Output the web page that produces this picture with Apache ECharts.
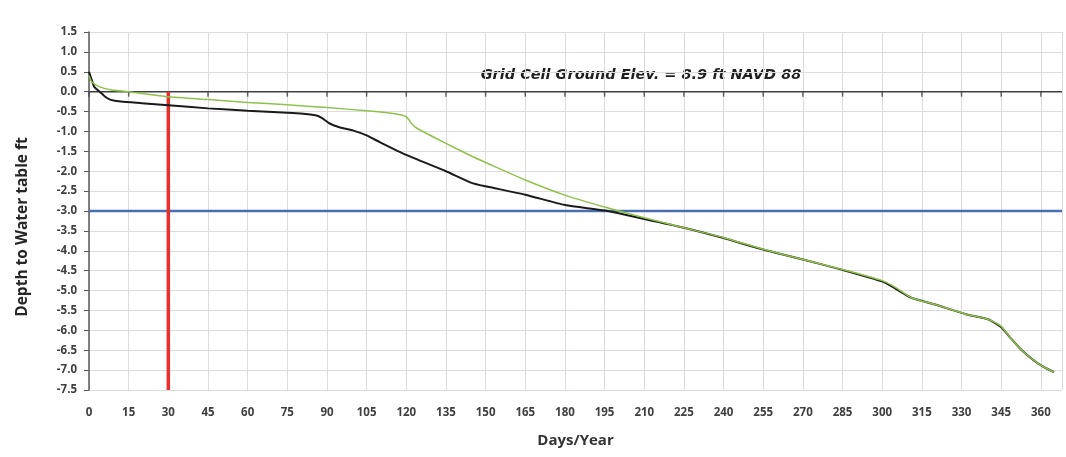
<!DOCTYPE html>
<html>
<head>
<meta charset="utf-8">
<script src="https://cdn.jsdelivr.net/npm/echarts@6/dist/echarts.min.js"></script>
<style>
html,body{margin:0;padding:0;background:#fff;}
#chart{width:1066px;height:457px;}
</style>
</head>
<body>
<div id="chart"></div>
<script>
// Days of year and depth to water table (ft)
const blackDays = [0,1,2,4,6,8,12,20,30,45,60,75,80,86,88,91,95,100,105,110,120,135,145,150,165,180,195,210,225,240,255,270,285,300,305,311,320,332,340,345,348,352,357,361,365];
const blackDepth = [0.5,0.3,0.12,0.0,-0.12,-0.2,-0.25,-0.29,-0.34,-0.42,-0.48,-0.53,-0.55,-0.6,-0.66,-0.8,-0.9,-0.98,-1.1,-1.27,-1.59,-2.0,-2.3,-2.38,-2.59,-2.85,-2.99,-3.2,-3.42,-3.68,-3.97,-4.22,-4.48,-4.77,-4.95,-5.18,-5.35,-5.6,-5.72,-5.92,-6.15,-6.45,-6.74,-6.92,-7.05];
const greenDays = [0,1,4,8,15,30,45,60,75,90,105,115,120,122,124,135,145,150,165,180,195,210,225,240,255,270,285,300,305,311,320,332,340,345,348,352,357,361,365];
const greenDepth = [0.4,0.25,0.12,0.05,0.0,-0.13,-0.2,-0.27,-0.33,-0.4,-0.48,-0.55,-0.63,-0.8,-0.92,-1.3,-1.63,-1.78,-2.22,-2.6,-2.9,-3.17,-3.42,-3.67,-3.96,-4.22,-4.47,-4.75,-4.92,-5.18,-5.35,-5.6,-5.72,-5.9,-6.15,-6.45,-6.74,-6.92,-7.05];
const markerDay = 30;          // red vertical line
const thresholdDepth = -3.0;   // blue horizontal line
const zeroDepth = 0.0;         // ground-level axis line
const yMin = -7.5, yMax = 1.5, yStep = 0.5;
const xMin = 0, xMax = 368, xStep = 15;
const tickDays = [0,15,30,45,60,75,90,105,120,135,150,165,180,195,210,225,240,255,270,285,300,315,330,345,360];
const annotation = 'Grid Cell Ground Elev. = 8.9 ft NAVD 88';
const xTitle = 'Days/Year';
const yTitle = 'Depth to Water table ft';

const toPairs = (xs, ys) => xs.map((x, i) => [x, ys[i]]);

const chart = echarts.init(document.getElementById('chart'));
const lblFont = {fontFamily: 'Open Sans', fontWeight: 'bold', fontSize: 11.5, color: '#404040'};

chart.setOption({
  animation: false,
  backgroundColor: '#ffffff',
  grid: {left: 89, right: 4, top: 32, bottom: 67, containLabel: false},
  xAxis: {
    type: 'value', min: xMin, max: xMax, interval: xStep, position: 'bottom',
    axisLine: {show: false}, axisTick: {show: false},
    axisLabel: Object.assign({margin: 17, showMaxLabel: false}, lblFont),
    splitLine: {show: true, lineStyle: {color: '#dcdcdc', width: 1}},
    name: xTitle, nameLocation: 'middle', nameGap: 43,
    nameTextStyle: {fontFamily: 'Open Sans', fontWeight: 'bold', fontSize: 15, color: '#333333'}
  },
  yAxis: {
    type: 'value', min: yMin, max: yMax, interval: yStep,
    axisLine: {show: true, onZero: false, lineStyle: {color: '#595959', width: 1.5}},
    axisTick: {show: true, length: 5, lineStyle: {color: '#595959'}},
    axisLabel: Object.assign({margin: 12, formatter: v => v.toFixed(1)}, lblFont),
    splitLine: {show: true, lineStyle: {color: '#dcdcdc', width: 1}}
  },
  graphic: [{
    type: 'text', x: 23, y: 227, rotation: Math.PI / 2,
    style: {text: yTitle, fontFamily: 'Open Sans', fontWeight: 'bold', fontSize: 15.5, fill: '#262626', align: 'center', verticalAlign: 'middle'}
  }, {
    type: 'text', x: 641, y: 75,
    style: {text: annotation, fontFamily: 'DejaVu Sans', fontStyle: 'oblique', fontWeight: 'bold', fontSize: 14.5, fill: '#1f1f1f', stroke: 'none', lineWidth: 0, align: 'center', verticalAlign: 'middle'}
  }],
  series: [{
    type: 'line', name: 'zero axis', symbol: 'none', silent: true,
    data: [[xMin, zeroDepth], [xMax, zeroDepth]],
    lineStyle: {color: '#404040', width: 1.5}, z: 2
  }, {
    type: 'scatter', name: 'zero ticks', silent: true,
    data: tickDays.map(d => [d, zeroDepth]),
    symbol: 'rect', symbolSize: [1.5, 5], symbolOffset: [0, 2.5],
    itemStyle: {color: '#404040'}, z: 2
  }, {
    type: 'line', name: 'threshold', symbol: 'none',
    data: [[xMin, thresholdDepth], [xMax, thresholdDepth]],
    lineStyle: {color: '#4a6fb0', width: 2.5}, z: 3
  }, {
    type: 'line', name: 'marker', symbol: 'none',
    data: [[markerDay, zeroDepth], [markerDay, yMin]],
    lineStyle: {color: '#e5302c', width: 3.5}, z: 4
  }, {
    type: 'line', name: 'black', symbol: 'none', smooth: 0.2,
    data: toPairs(blackDays, blackDepth),
    lineStyle: {color: '#1a1a1a', width: 2}, z: 5
  }, {
    type: 'line', name: 'green', symbol: 'none', smooth: 0.2,
    data: toPairs(greenDays, greenDepth),
    lineStyle: {color: '#8fc24a', width: 1.5}, z: 6
  }]
});
</script>
</body>
</html>
